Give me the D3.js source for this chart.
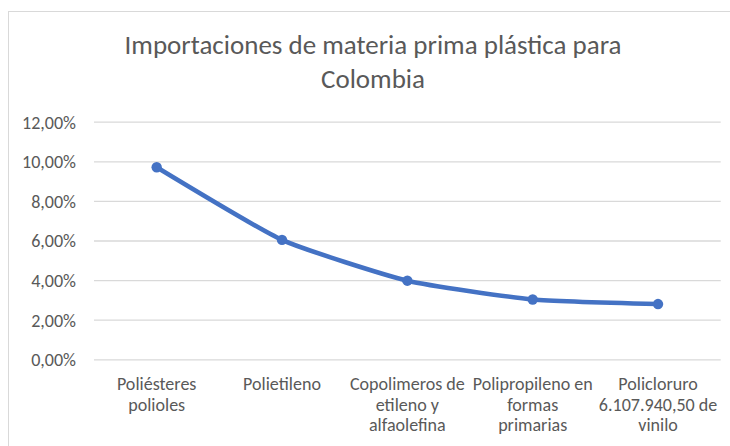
<!DOCTYPE html>
<html>
<head>
<meta charset="utf-8">
<script src="https://cdn.jsdelivr.net/npm/d3@7"></script>
<style>
  body { margin: 0; background: #fff; }
  svg { display: block; font-family: Carlito, Calibri, Lato, "Noto Sans", sans-serif; }
</style>
</head>
<body>
<svg id="chart" width="730" height="446"></svg>
<script>
// datos
var categories = [
    "Poliésteres polioles",
    "Polietileno",
    "Copolimeros de etileno y alfaolefina",
    "Polipropileno en formas primarias",
    "Policloruro 6.107.940,50 de vinilo"
];
var categoryLines = [
    ["Poliésteres", "polioles"],
    ["Polietileno"],
    ["Copolimeros de", "etileno y", "alfaolefina"],
    ["Polipropileno en", "formas", "primarias"],
    ["Policloruro", "6.107.940,50 de", "vinilo"]
];
var values = [0.0970, 0.0603, 0.0397, 0.0302, 0.0279];
var yTicks = [0, 0.02, 0.04, 0.06, 0.08, 0.10, 0.12];
var titleLines = ["Importaciones de materia prima plástica para", "Colombia"];

var svg = d3.select("#chart");
var textColor = "#595959";
var gridColor = "#d9d9d9";
var lineColor = "#4472c4";

var plot = { left: 94, right: 720.7, top: 121.7, bottom: 359.3 };

var es = d3.formatLocale({ decimal: ",", thousands: ".", grouping: [3], currency: ["", "€"] });
var pct = es.format(".2%");

// ajusta el tamaño de fuente para que el texto tenga el ancho deseado
function fitSize(str, target, base) {
    var t = svg.append("text").attr("font-size", base).text(str);
    var w = t.node().getComputedTextLength();
    t.remove();
    return base * target / w;
}

// borde del area del grafico
svg.append("rect")
    .attr("x", 8.5).attr("y", 11.5)
    .attr("width", 760).attr("height", 460)
    .attr("fill", "#fff")
    .attr("stroke", gridColor)
    .attr("stroke-width", 1);

var x = d3.scaleBand()
    .domain(categories)
    .range([plot.left, plot.right])
    .padding(0);

var y = d3.scaleLinear()
    .domain([0, 0.12])
    .range([plot.bottom, plot.top]);

var tickFont = fitSize("Copolimeros de", 115, 16);
var titleFont = fitSize("Colombia", 104, 24);

// lineas de cuadricula
var grid = svg.append("g")
    .attr("transform", "translate(" + plot.left + ",0)")
    .call(d3.axisLeft(y).tickValues(yTicks).tickSize(-(plot.right - plot.left)).tickFormat(""));
grid.select(".domain").remove();
grid.selectAll("line").attr("stroke", gridColor).attr("stroke-width", 1.3);

// eje Y
var yAxis = svg.append("g")
    .attr("transform", "translate(" + plot.left + ",0)")
    .call(d3.axisLeft(y).tickValues(yTicks).tickSize(0).tickPadding(18).tickFormat(pct))
    .attr("font-family", null)
    .attr("font-size", null);
yAxis.select(".domain").remove();
yAxis.selectAll("text")
    .attr("fill", textColor)
    .attr("font-size", tickFont)
    .attr("dy", "0.35em");

// eje X (una etiqueta de texto por linea)
var xAxis = svg.append("g")
    .attr("transform", "translate(0," + plot.bottom + ")")
    .call(d3.axisBottom(x).tickSize(0).tickFormat(""))
    .attr("font-family", null)
    .attr("font-size", null);
xAxis.select(".domain").remove();
xAxis.selectAll(".tick text").remove();
xAxis.selectAll(".tick").each(function(d, i) {
    var g = d3.select(this);
    categoryLines[i].forEach(function(line, j) {
        g.append("text")
            .attr("fill", textColor)
            .attr("font-size", tickFont)
            .attr("text-anchor", "middle")
            .attr("x", 0)
            .attr("y", 31.2 + j * 20.4)
            .text(line);
    });
});

// serie
var line = d3.line()
    .x(function(d, i) { return x(categories[i]) + x.bandwidth() / 2; })
    .y(function(d) { return y(d); })
    .curve(d3.curveCardinal.tension(0.5));

svg.append("path")
    .datum(values)
    .attr("d", line)
    .attr("fill", "none")
    .attr("stroke", lineColor)
    .attr("stroke-width", 4.5)
    .attr("stroke-linecap", "round")
    .attr("stroke-linejoin", "round");

svg.selectAll(".dot")
    .data(values)
    .enter().append("circle")
    .attr("class", "dot")
    .attr("cx", function(d, i) { return x(categories[i]) + x.bandwidth() / 2; })
    .attr("cy", function(d) { return y(d); })
    .attr("r", 5.2)
    .attr("fill", lineColor);

// titulo
var title = svg.append("text")
    .attr("fill", textColor)
    .attr("font-size", titleFont)
    .attr("text-anchor", "middle");
titleLines.forEach(function(l, i) {
    title.append("tspan")
        .attr("x", 373)
        .attr("y", i === 0 ? 54.3 : 88.3)
        .text(l);
});
</script>
</body>
</html>
